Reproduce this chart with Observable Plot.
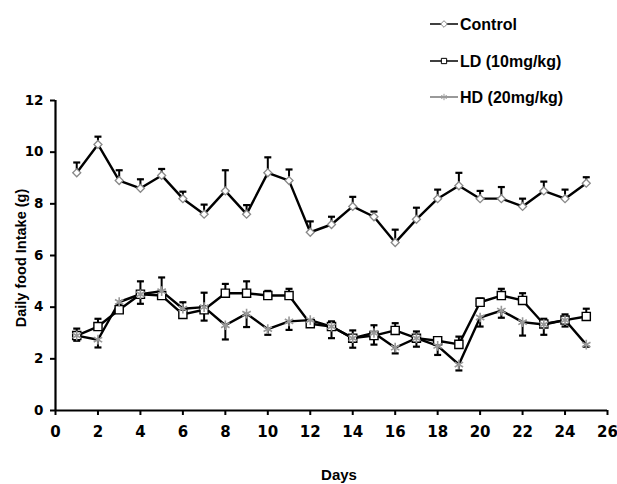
<!DOCTYPE html>
<html>
<head>
<meta charset="utf-8">
<script src="https://cdn.jsdelivr.net/npm/d3@7"></script>
<script src="https://cdn.jsdelivr.net/npm/@observablehq/plot@0.6"></script>
<style>
  body { margin: 0; background: #fff; }
  #chart { position: relative; width: 617px; height: 484px; }
  svg { overflow: visible; }
</style>
</head>
<body>
<div id="chart"></div>
<script>
const days = [1,2,3,4,5,6,7,8,9,10,11,12,13,14,15,16,17,18,19,20,21,22,23,24,25];
const controlMean = [9.2,10.3,8.9,8.6,9.1,8.2,7.6,8.5,7.6,9.2,8.9,6.9,7.2,7.9,7.5,6.5,7.4,8.2,8.7,8.2,8.2,7.9,8.5,8.2,8.8];
const controlSem  = [0.4,0.3,0.4,0.35,0.25,0.27,0.37,0.8,0.35,0.6,0.43,0.42,0.3,0.37,0.2,0.5,0.45,0.35,0.5,0.3,0.45,0.3,0.36,0.35,0.23];
const ldMean = [2.9,3.25,3.9,4.5,4.45,3.72,3.9,4.54,4.54,4.45,4.45,3.36,3.25,2.8,2.9,3.1,2.8,2.7,2.56,4.19,4.45,4.26,3.35,3.5,3.64];
const ldSem  = [0.27,0.3,0.1,0.5,0.7,0.47,0.66,0.36,0.46,0.18,0.26,0.1,0.2,0.3,0.4,0.28,0.26,0.13,0.3,0.15,0.26,0.28,0.2,0.22,0.3];
const hdMean = [2.9,2.74,4.2,4.5,4.62,3.94,4.0,3.3,3.75,3.15,3.45,3.5,3.25,2.8,3.0,2.43,2.8,2.5,1.78,3.6,3.87,3.42,3.33,3.5,2.55];
const hdSem  = [0.2,0.3,0.1,0.37,0.3,0.15,0.52,0.55,0.52,0.22,0.33,0.1,0.45,0.37,0.45,0.22,0.33,0.35,0.23,0.35,0.28,0.52,0.4,0.25,0.08];
const xTicks = [0,2,4,6,8,10,12,14,16,18,20,22,24,26];
const yTicks = [0,2,4,6,8,10,12];
const seriesNames = ["Control", "LD (10mg/kg)", "HD (20mg/kg)"];
const xLabel = "Days";
const yLabel = "Daily food Intake (g)";

const mk = (mean, sem, dir) => days.map((d, i) => ({day: d, v: mean[i], e: mean[i] + dir * sem[i]}));
const control = mk(controlMean, controlSem, 1);
const ld = mk(ldMean, ldSem, 1);
const hd = mk(hdMean, hdSem, -1);

const cap = { draw(ctx) { ctx.moveTo(-3.5, 0); ctx.lineTo(3.5, 0); } };

const lineOpts = {x: "day", y: "v", stroke: "#000", strokeWidth: 2.4};
const errMarks = (data) => [
  Plot.ruleX(data, {x: "day", y1: "v", y2: "e", stroke: "#000", strokeWidth: 2}),
  Plot.dot(data, {x: "day", y: "e", symbol: cap, r: 4, stroke: "#000", strokeWidth: 2.2})
];

const plot = Plot.plot({
  width: 617,
  height: 484,
  marginTop: 100,
  marginBottom: 74,
  marginLeft: 55,
  marginRight: 10,
  x: {domain: [0, 26]},
  y: {domain: [0, 12]},
  style: {background: "#fff"},
  marks: [
    Plot.line(hd, lineOpts),
    Plot.line(ld, lineOpts),
    Plot.line(control, lineOpts),
    ...errMarks(hd),
    ...errMarks(ld),
    ...errMarks(control),
    Plot.dot(control, {x: "day", y: "v", symbol: "diamond2", r: 3.6, fill: "#fff", stroke: "#888", strokeWidth: 1.3}),
    Plot.dot(ld, {x: "day", y: "v", symbol: "square", r: 4.6, fill: "#fff", stroke: "#000", strokeWidth: 1.4}),
    Plot.dot(hd, {x: "day", y: "v", symbol: "asterisk", r: 4.6, stroke: "#999", strokeWidth: 1.6}),
    Plot.ruleX([0], {stroke: "#000", strokeWidth: 2.2}),
    Plot.ruleY([0], {stroke: "#000", strokeWidth: 2.2}),
    Plot.axisX({ticks: xTicks, tickSize: 5, tickPadding: 11, label: null, strokeWidth: 2,
      fontSize: 15, fontWeight: "bold", fontFamily: "DejaVu Sans", fill: "#000"}),
    Plot.axisY({ticks: yTicks, tickSize: 5, tickPadding: 7, label: null, strokeWidth: 2,
      fontSize: 13.5, fontWeight: "bold", fontFamily: "DejaVu Sans", fill: "#000"})
  ]
});

document.getElementById("chart").appendChild(plot);

const svg = d3.select(plot);
// axis titles
svg.append("text").attr("x", 339).attr("y", 480)
  .attr("text-anchor", "middle")
  .style("font", "bold 15px 'Liberation Sans', Arial, sans-serif").attr("fill", "#000")
  .text(xLabel);
svg.append("text").attr("transform", "translate(26,258) rotate(-90)")
  .attr("text-anchor", "middle")
  .style("font", "bold 14.5px 'Liberation Sans', Arial, sans-serif").attr("fill", "#000")
  .text(yLabel);

// legend
const leg = svg.append("g");
const legendY = [24, 61, 97];
const symbols = [d3.symbolDiamond2, d3.symbolSquare, d3.symbolAsterisk];
const symFill = ["#fff", "#fff", "none"];
const symStroke = ["#888", "#000", "#999"];
const lineStroke = ["#000", "#000", "#777"];
seriesNames.forEach((name, i) => {
  const y = legendY[i];
  leg.append("line").attr("x1", 430).attr("x2", 458).attr("y1", y).attr("y2", y)
    .attr("stroke", lineStroke[i]).attr("stroke-width", 1.5);
  leg.append("path").attr("d", d3.symbol(symbols[i], 28)())
    .attr("transform", `translate(444,${y})`)
    .attr("fill", symFill[i]).attr("stroke", symStroke[i]).attr("stroke-width", 1);
  leg.append("text").attr("x", 460).attr("y", y).attr("dy", "0.36em")
    .attr("text-anchor", "start")
    .style("font", "bold 16px 'Liberation Sans', Arial, sans-serif").attr("fill", "#000")
    .text(name);
});
</script>
</body>
</html>
